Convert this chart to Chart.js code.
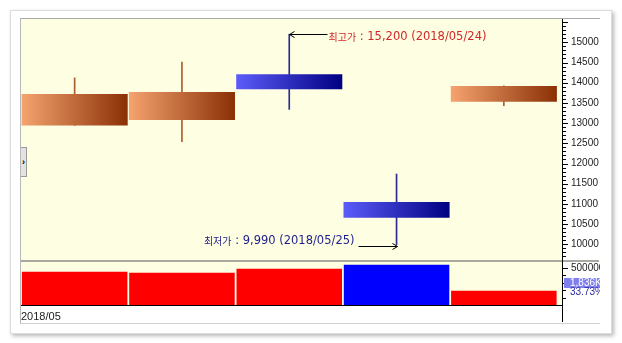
<!DOCTYPE html>
<html>
<head>
<meta charset="utf-8">
<script src="https://cdn.jsdelivr.net/npm/chart.js@4.4.1/dist/chart.umd.min.js"></script>
<style>
  html, body { margin:0; padding:0; background:#ffffff; }
  #wrap { position:relative; width:622px; height:343px; overflow:hidden; }
  #card { position:absolute; left:10px; top:10px; width:600px; height:322px; background:#fff;
          border:1px solid #dcdcdc; box-shadow:2px 2px 4px rgba(0,0,0,0.28); }
  #inner { position:absolute; left:20px; top:18px; width:579px; height:304px;
           border-top:1px solid #a8a8a8; border-left:1px solid #b8b8b8;
           border-right:1px solid #d0d0d0; border-bottom:1px solid #d0d0d0; background:#fff; }
  canvas { position:absolute; left:0; top:0; z-index:1; }
  #clipR { position:absolute; left:600px; top:17px; width:10px; height:307px; background:#fff; z-index:2; }
  #tab { position:absolute; left:21px; top:147px; width:5px; height:28px; background:#e2e2e2;
         border:1px solid #9a9a9a; border-left:none; z-index:3; font:bold 9px 'Liberation Sans', Arial, sans-serif;
         line-height:28px; text-align:center; color:#000; }
</style>
</head>
<body>
<div id="wrap">
  <div id="card"></div>
  <div id="inner"></div>
  <canvas id="c" width="622" height="343"></canvas>
  <div id="clipR"></div>
  <div id="tab">›</div>
</div>
<script>
// ---- data ----
const dates   = ['2018/05/22', '2018/05/23', '2018/05/24', '2018/05/25', '2018/05/28'];
const monthLabel = '2018/05';
const opens   = [12940, 13080, 14210, 11050, 13530];
const highs   = [14120, 14510, 15200, 11740, 13920];
const lows    = [12940, 12540, 13340, 9990, 13430];
const closes  = [13720, 13770, 13840, 10660, 13920];
const volumes = [450000, 436000, 491000, 545000, 193000];
const volDir  = ['up', 'up', 'up', 'down', 'up'];
const priceTicks = [10000, 10500, 11000, 11500, 12000, 12500, 13000, 13500, 14000, 14500, 15000];
const volTicks = [500000];
const priceRange = [9587, 15577];
const volRange = [0, 595000];
const volLastLabel = '1,836K';
const volPctLabel = '33.73%';
const hiPrefix = '최고가';
const loPrefix = '최저가';

// ---- styles ----
const UP_L = '#F5A36F', UP_R = '#8A3006', DN_L = '#5C5CFA', DN_R = '#000082';
const UP_WICK = '#A8602E', DN_WICK = '#2C2C90';
const BODY_PCT = 106 / 107.2, VOL_PCT = 105.4 / 107.2;
const xMax = 4.5 + 4.5 / 107.2;
const KO_FONT = "10px 'Noto Sans CJK KR', sans-serif";
const LAT_FONT = "11.5px 'DejaVu Sans', sans-serif";

const isUp = i => closes[i] >= opens[i];

function gradFor(ctx) {
  const chart = ctx.chart;
  const xs = chart.scales && chart.scales.x;
  const i = ctx.dataIndex;
  const fallback = (i !== undefined && !isUp(i)) ? DN_R : UP_R;
  if (ctx.type !== 'data' || !xs) return fallback;
  const cx = xs.getPixelForValue(i);
  const half = (xs.getPixelForValue(1) - xs.getPixelForValue(0)) * BODY_PCT / 2;
  if (!isFinite(cx) || !isFinite(half) || half <= 0) return fallback;
  const g = chart.ctx.createLinearGradient(cx - half, 0, cx + half, 0);
  if (isUp(i)) { g.addColorStop(0, UP_L); g.addColorStop(1, UP_R); }
  else { g.addColorStop(0, DN_L); g.addColorStop(1, DN_R); }
  return g;
}

// draw Korean prefix + latin remainder as one label; anchor: 'left' or 'right'
function drawMixed(ctx, ko, lat, x, y, anchor) {
  ctx.font = KO_FONT; const wk = ctx.measureText(ko).width;
  ctx.font = LAT_FONT; const wl = ctx.measureText(lat).width;
  const x0 = anchor === 'left' ? x : x - wk - wl;
  ctx.textAlign = 'left';
  ctx.textBaseline = 'middle';
  ctx.font = KO_FONT; ctx.fillText(ko, x0, y);
  ctx.font = LAT_FONT; ctx.fillText(lat, x0 + wk, y);
}

const decorPlugin = {
  id: 'decor',
  beforeDatasetsDraw(chart) {
    const {ctx, chartArea: a} = chart;
    ctx.save();
    ctx.fillStyle = '#FEFEE2';
    ctx.fillRect(a.left, a.top, a.right - a.left, a.bottom - a.top);
    ctx.restore();
  },
  afterDatasetsDraw(chart) {
    const {ctx, chartArea: a, scales} = chart;
    const ys = scales.y, vs = scales.v, xs = scales.x;
    ctx.save();
    ctx.fillStyle = '#A9A9A2';
    ctx.fillRect(a.left, ys.bottom - 1, 599 - a.left, 2);
    ctx.fillStyle = '#000';
    ctx.fillRect(a.left, a.bottom, a.right - a.left, 1);
    ctx.fillRect(a.right, a.top, 1, 322 - a.top);
    for (let v = Math.ceil(ys.min / 100) * 100; v <= ys.max; v += 100) {
      const py = Math.round(ys.getPixelForValue(v)) + 0.5;
      if (py < ys.top || py > ys.bottom - 1) continue;
      const len = (v % 500 === 0) ? 5 : 3;
      ctx.fillRect(a.right, py - 0.5, len + 1, 1);
    }
    for (let v = 100000; v <= vs.max; v += 100000) {
      const py = Math.round(vs.getPixelForValue(v)) + 0.5;
      if (py < vs.top + 1) continue;
      const len = (v % 500000 === 0) ? 5 : 3;
      ctx.fillRect(a.right, py - 0.5, len + 1, 1);
    }
    ctx.font = "10px 'Liberation Sans', Arial, sans-serif";
    ctx.textBaseline = 'middle';
    ctx.textAlign = 'left';
    ctx.fillStyle = '#7F7FEE';
    ctx.fillRect(a.right + 2, 278, 37, 10);
    ctx.fillStyle = '#ffffff';
    ctx.fillText(volLastLabel, a.right + 8, 283.5);
    ctx.fillStyle = '#2A2AA6';
    ctx.fillText(volPctLabel, a.right + 8, 292.5);

    let hi = 0, lo = 0;
    highs.forEach((h, i) => { if (h > highs[hi]) hi = i; });
    lows.forEach((l, i) => { if (l < lows[lo]) lo = i; });
    const fmt = n => n.toLocaleString('en-US');
    ctx.strokeStyle = '#000';
    ctx.lineWidth = 1;
    const hx = Math.round(xs.getPixelForValue(hi)) + 0.5;
    const hy = Math.round(ys.getPixelForValue(highs[hi])) + 0.5;
    ctx.beginPath();
    ctx.moveTo(hx, hy); ctx.lineTo(hx + 38, hy);
    ctx.moveTo(hx + 5, hy - 3); ctx.lineTo(hx, hy); ctx.lineTo(hx + 5, hy + 3);
    ctx.stroke();
    ctx.fillStyle = '#D02828';
    drawMixed(ctx, hiPrefix, ' : ' + fmt(highs[hi]) + ' (' + dates[hi] + ')', hx + 39, hy + 3, 'left');
    const lx = Math.round(xs.getPixelForValue(lo)) + 0.5;
    const ly = Math.round(ys.getPixelForValue(lows[lo])) + 1.5;
    ctx.beginPath();
    ctx.moveTo(lx - 39, ly); ctx.lineTo(lx, ly);
    ctx.moveTo(lx - 5, ly - 3); ctx.lineTo(lx, ly); ctx.lineTo(lx - 5, ly + 3);
    ctx.stroke();
    ctx.fillStyle = '#1E1E8E';
    drawMixed(ctx, loPrefix, ' : ' + fmt(lows[lo]) + ' (' + dates[lo] + ')', lx - 43, ly - 5, 'right');
    ctx.restore();
  }
};

const tickFont = { family: "'Liberation Sans', Arial, sans-serif", size: 10 };

new Chart(document.getElementById('c'), {
  type: 'bar',
  data: {
    datasets: [
      {
        label: 'wick',
        data: dates.map((d, i) => ({ x: i, y: [lows[i], highs[i]] })),
        yAxisID: 'y',
        barThickness: 1,
        grouped: false,
        order: 2,
        backgroundColor: dates.map((d, i) => isUp(i) ? UP_WICK : DN_WICK)
      },
      {
        label: 'body',
        data: dates.map((d, i) => ({ x: i, y: [opens[i], closes[i]] })),
        yAxisID: 'y',
        barPercentage: BODY_PCT,
        categoryPercentage: 1,
        grouped: false,
        order: 1,
        backgroundColor: gradFor
      },
      {
        label: 'volume',
        data: dates.map((d, i) => ({ x: i, y: volumes[i] })),
        yAxisID: 'v',
        barPercentage: VOL_PCT,
        categoryPercentage: 1,
        grouped: false,
        order: 3,
        backgroundColor: volDir.map(d => d === 'up' ? '#FF0000' : '#0000FF')
      }
    ]
  },
  options: {
    responsive: false,
    animation: false,
    devicePixelRatio: 1,
    layout: { padding: { left: 21, top: 19, right: 22, bottom: 18 } },
    plugins: { legend: { display: false }, tooltip: { enabled: false } },
    scales: {
      x: {
        type: 'linear', min: -0.5, max: xMax, offset: false,
        grid: { display: false, drawTicks: false, offset: false }, border: { display: false },
        afterBuildTicks: s => { s.ticks = [{ value: -0.5 }]; },
        afterFit: s => { s.height = 20; },
        ticks: { align: 'start', maxRotation: 0, autoSkip: false, padding: 5,
                 color: '#222', font: { family: "'Liberation Sans', Arial, sans-serif", size: 11 },
                 callback: () => monthLabel }
      },
      y: {
        type: 'linear', position: 'right', stack: 'r', stackWeight: 242,
        min: priceRange[0], max: priceRange[1],
        grid: { display: false, drawTicks: false }, border: { display: false },
        afterBuildTicks: s => { s.ticks = priceTicks.map(v => ({ value: v })); },
        afterFit: s => { s.width = 38; },
        ticks: { padding: 9, color: '#222', font: tickFont, autoSkip: false, callback: v => String(v) }
      },
      v: {
        type: 'linear', position: 'right', stack: 'r', stackWeight: 44,
        min: volRange[0], max: volRange[1],
        grid: { display: false, drawTicks: false }, border: { display: false },
        afterBuildTicks: s => { s.ticks = volTicks.map(v => ({ value: v })); },
        afterFit: s => { s.width = 38; },
        ticks: { padding: 9, color: '#222', font: tickFont, autoSkip: false, callback: v => String(v) }
      }
    }
  },
  plugins: [decorPlugin]
});
</script>
</body>
</html>
